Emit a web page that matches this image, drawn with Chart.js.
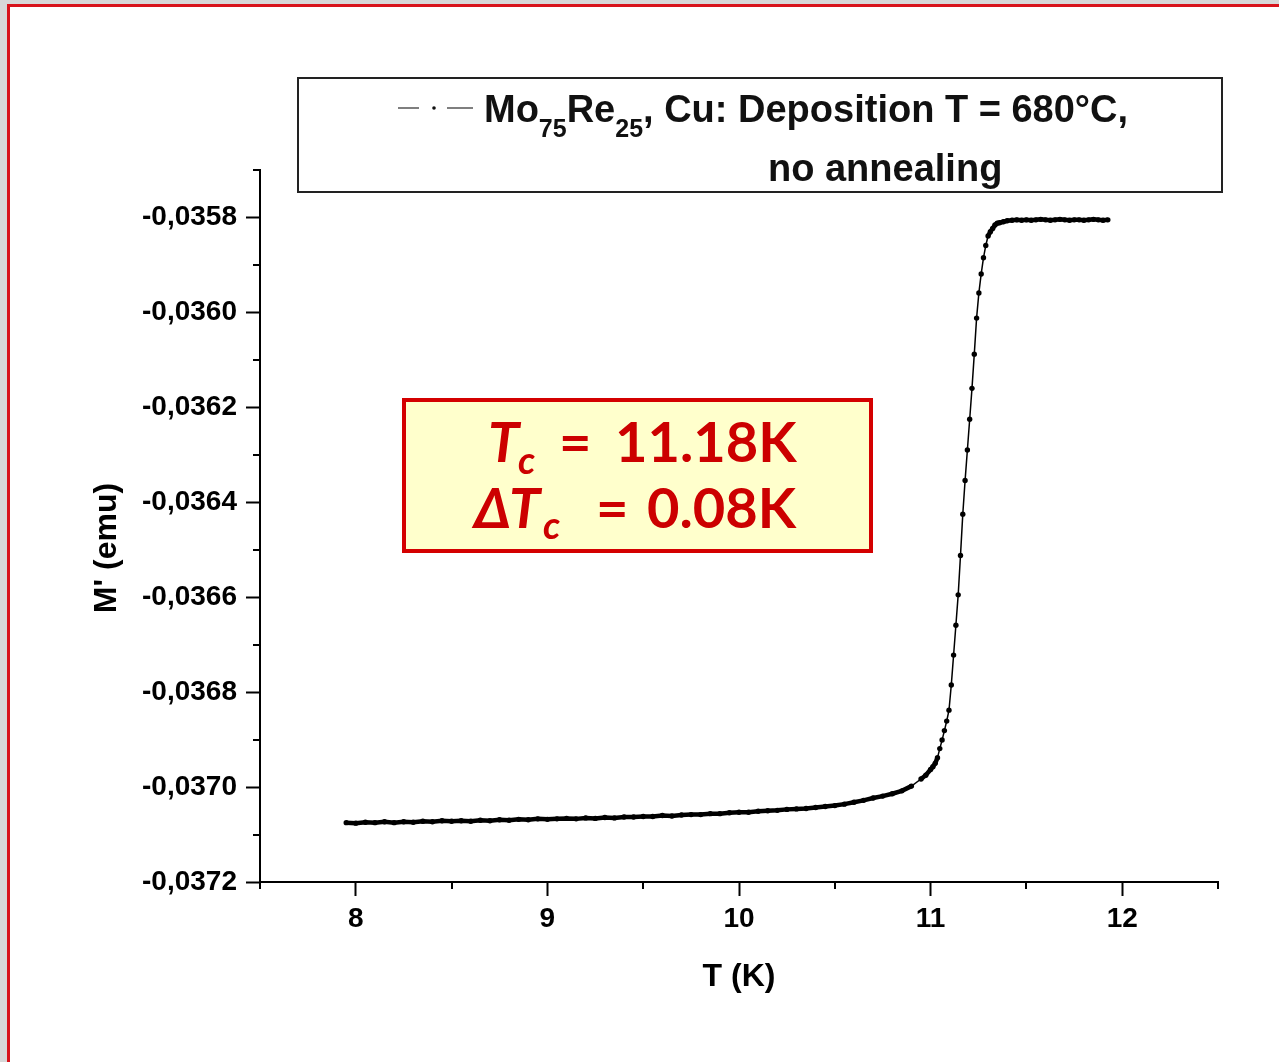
<!DOCTYPE html>
<html>
<head>
<meta charset="utf-8">
<title>Mo75Re25, Cu - M'(T)</title>
<script src="https://cdn.jsdelivr.net/npm/chart.js@4.4.1/dist/chart.umd.min.js"></script>
<style>
  html, body { margin: 0; padding: 0; }
  body { width: 1279px; height: 1062px; background: #d8d8d8; overflow: hidden; position: relative; }
  #folha { position: absolute; left: 7px; top: 4px; width: 1300px; height: 1100px; background: #fff;
           border-top: 3px solid #d8141c; border-left: 3px solid #d8141c; }
  #grafico { position: absolute; left: 0; top: 0; }
</style>
</head>
<body>
<div id="folha"></div>
<canvas id="grafico" width="1279" height="1062"></canvas>
<script>
// Temperatura (K) e momento M' (emu) medidos
var temperatura = [
  7.95, 8.00, 8.05, 8.10, 8.15, 8.20, 8.25, 8.30, 8.35, 8.40, 8.45, 8.50, 8.55, 8.60, 8.65, 8.70,
  8.75, 8.80, 8.85, 8.90, 8.95, 9.00, 9.05, 9.10, 9.15, 9.20, 9.25, 9.30, 9.35, 9.40, 9.45, 9.50,
  9.55, 9.60, 9.65, 9.70, 9.75, 9.80, 9.85, 9.90, 9.95, 10.00, 10.05, 10.10, 10.15, 10.20, 10.25,
  10.30, 10.35, 10.40, 10.45, 10.50, 10.55, 10.60, 10.65, 10.70, 10.75, 10.80, 10.85, 10.90, 10.95,
  10.975, 11.000, 11.012, 11.024, 11.036, 11.048, 11.060, 11.072, 11.084, 11.096, 11.108, 11.120,
  11.132, 11.144, 11.156, 11.168, 11.180, 11.192, 11.204, 11.216, 11.228, 11.240, 11.252, 11.264,
  11.276, 11.288, 11.300, 11.312, 11.324, 11.336, 11.348, 11.360, 11.380, 11.400,
  11.425, 11.450, 11.475, 11.500, 11.525, 11.550, 11.575, 11.600, 11.625, 11.650, 11.675, 11.700,
  11.725, 11.750, 11.775, 11.800, 11.825, 11.850, 11.875, 11.900, 11.925
];
var momento = [
  -0.037075, -0.037076, -0.037074, -0.037075, -0.037073, -0.037075, -0.037073, -0.037074,
  -0.037072, -0.037073, -0.037071, -0.037072, -0.037071, -0.037072, -0.037070, -0.037071,
  -0.037069, -0.037070, -0.037068, -0.037069, -0.037067, -0.037068, -0.037067, -0.037066,
  -0.037067, -0.037065, -0.037066, -0.037064, -0.037065, -0.037063, -0.037063, -0.037062,
  -0.037062, -0.037060, -0.037061, -0.037059, -0.037058, -0.037058, -0.037056, -0.037056,
  -0.037054, -0.037053, -0.037053, -0.037051, -0.037050, -0.037049, -0.037047,
  -0.037046, -0.037045, -0.037043, -0.037041, -0.037039, -0.037036, -0.037032, -0.037028,
  -0.037023, -0.037019, -0.037014, -0.037008, -0.036998, -0.036983,
  -0.036975, -0.036963, -0.036957, -0.036950, -0.036938, -0.036919, -0.036901, -0.036881,
  -0.036861, -0.036838, -0.036785, -0.036722,
  -0.036659, -0.036595, -0.036512, -0.036425, -0.036354, -0.036290, -0.036225, -0.036160,
  -0.036088, -0.036012, -0.035959, -0.035919,
  -0.035885, -0.035859, -0.035839, -0.035830, -0.035823, -0.035816, -0.035812, -0.035811,
  -0.035809, -0.035807,
  -0.035806, -0.035805, -0.035806, -0.035805, -0.035806, -0.035805, -0.035804, -0.035805,
  -0.035806, -0.035805, -0.035804, -0.035805, -0.035806, -0.035805, -0.035805, -0.035806,
  -0.035805, -0.035804, -0.035805, -0.035806, -0.035805
];

// Marcas dos eixos
var ticksX = [8, 9, 10, 11, 12];
var ticksY = [-0.0372, -0.0370, -0.0368, -0.0366, -0.0364, -0.0362, -0.0360, -0.0358];

var fonteEixo = '"Liberation Sans", Arial, sans-serif';
var fonteCaixa = 'Lato, "DejaVu Sans", sans-serif';

var pontos = temperatura.map(function (t, i) {
    return { x: t, y: momento[i] };
});

// Marcas menores, titulos dos eixos, legenda e caixa do Tc
var decoracao = {
    id: 'decoracao',
    afterDraw: function (chart) {
        var ctx = chart.ctx;
        var area = chart.chartArea;
        var sx = chart.scales.x;
        var sy = chart.scales.y;

        ctx.save();
        ctx.strokeStyle = '#000';
        ctx.lineWidth = 2;
        ctx.beginPath();
        ticksX.map(function (v) { return v - 0.5; }).concat([ticksX[ticksX.length - 1] + 0.5]).forEach(function (v) {
            var px = Math.round(sx.getPixelForValue(v));
            ctx.moveTo(px, area.bottom);
            ctx.lineTo(px, area.bottom + 7);
        });
        ticksY.map(function (v) { return v + 0.0001; }).forEach(function (v) {
            var py = Math.round(sy.getPixelForValue(v));
            ctx.moveTo(area.left - 7, py);
            ctx.lineTo(area.left, py);
        });
        ctx.stroke();

        // titulos
        ctx.fillStyle = '#000';
        ctx.font = 'bold 32px ' + fonteEixo;
        ctx.textAlign = 'center';
        ctx.textBaseline = 'alphabetic';
        ctx.fillText('T (K)', (area.left + area.right) / 2, 986);
        ctx.save();
        ctx.translate(116, 548);
        ctx.rotate(-Math.PI / 2);
        ctx.fillText("M' (emu)", 0, 0);
        ctx.restore();

        // legenda
        ctx.strokeStyle = '#222';
        ctx.lineWidth = 2;
        ctx.strokeRect(298, 78, 924, 114);
        ctx.strokeStyle = '#555';
        ctx.lineWidth = 1.5;
        ctx.beginPath();
        ctx.moveTo(398, 108); ctx.lineTo(419, 108);
        ctx.moveTo(447, 108); ctx.lineTo(473, 108);
        ctx.stroke();
        ctx.fillStyle = '#111';
        ctx.beginPath();
        ctx.arc(434, 108, 1.8, 0, Math.PI * 2);
        ctx.fill();

        ctx.textAlign = 'left';
        var partes = [['Mo', 0], ['75', 1], ['Re', 0], ['25', 1], [', Cu: Deposition T = 680\u00B0C,', 0]];
        var x = 484;
        partes.forEach(function (p) {
            ctx.font = p[1] ? 'bold 25px ' + fonteEixo : 'bold 38px ' + fonteEixo;
            ctx.fillText(p[0], x, p[1] ? 137 : 122);
            x += ctx.measureText(p[0]).width;
        });
        ctx.font = 'bold 38px ' + fonteEixo;
        ctx.fillText('no annealing', 768, 181);

        // caixa Tc
        ctx.fillStyle = '#ffffcc';
        ctx.fillRect(402, 398, 471, 155);
        ctx.strokeStyle = '#d40000';
        ctx.lineWidth = 4;
        ctx.strokeRect(404, 400, 467, 151);

        ctx.fillStyle = '#cc0000';
        ctx.font = 'italic bold 56px ' + fonteCaixa;
        ctx.fillText('T', 488, 462);
        ctx.font = 'italic bold 38px ' + fonteCaixa;
        ctx.fillText('c', 518, 474);
        ctx.font = 'bold 56px ' + fonteCaixa;
        ctx.fillText('=', 559, 462);
        ctx.fillText('11.18K', 615, 462);

        ctx.font = 'italic bold 56px ' + fonteCaixa;
        ctx.fillText('\u0394', 474, 528);
        ctx.fillText('T', 509, 528);
        ctx.font = 'italic bold 38px ' + fonteCaixa;
        ctx.fillText('c', 543, 539);
        ctx.font = 'bold 56px ' + fonteCaixa;
        ctx.fillText('=', 596, 528);
        ctx.fillText('0.08K', 647, 528);
        ctx.restore();
    }
};

var ctxGrafico = document.getElementById('grafico').getContext('2d');
var grafico = new Chart(ctxGrafico, {
    type: 'line',
    data: {
        datasets: [{
            label: "Mo75Re25, Cu: Deposition T = 680\u00B0C, no annealing",
            data: pontos,
            borderColor: '#000',
            backgroundColor: '#000',
            borderWidth: 1.5,
            pointRadius: 2.7,
            pointBorderWidth: 0,
            pointBackgroundColor: '#000',
            tension: 0,
            segment: {
                // trechos com pontos muito proximos ficam com traco grosso
                borderWidth: function (c) {
                    return Math.abs(c.p1.y - c.p0.y) < 6 ? 4.5 : 1.5;
                }
            }
        }]
    },
    options: {
        responsive: false,
        animation: false,
        layout: { padding: { top: 170, right: 61, left: 0, bottom: 0 } },
        plugins: {
            legend: { display: false },
            tooltip: { enabled: false }
        },
        scales: {
            x: {
                type: 'linear',
                min: 7.5,
                max: 12.5,
                afterFit: function (s) { s.height = 180; },
                afterBuildTicks: function (s) {
                    s.ticks = ticksX.map(function (v) { return { value: v }; });
                },
                border: { color: '#000', width: 2 },
                grid: { drawOnChartArea: false, tickLength: 14, tickWidth: 2, tickColor: '#000' },
                ticks: {
                    color: '#000',
                    padding: 6,
                    maxRotation: 0,
                    font: { family: fonteEixo, size: 28, weight: 'bold' },
                    callback: function (v) { return String(v); }
                }
            },
            y: {
                min: -0.0372,
                max: -0.0357,
                afterFit: function (s) { s.width = 260; },
                afterBuildTicks: function (s) {
                    s.ticks = ticksY.map(function (v) { return { value: v }; });
                },
                border: { color: '#000', width: 2 },
                grid: { drawOnChartArea: false, tickLength: 14, tickWidth: 2, tickColor: '#000' },
                ticks: {
                    color: '#000',
                    padding: 9,
                    font: { family: fonteEixo, size: 28, weight: 'bold' },
                    callback: function (v) { return v.toFixed(4).replace('.', ','); }
                }
            }
        }
    },
    plugins: [decoracao]
});
</script>
</body>
</html>
